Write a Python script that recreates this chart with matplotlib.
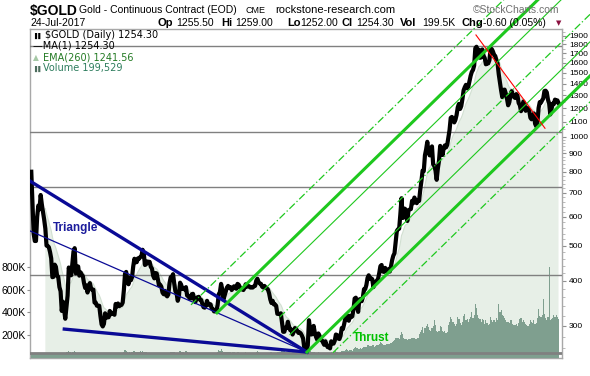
import matplotlib
matplotlib.use("Agg")
import matplotlib.pyplot as plt
import numpy as np
import pandas as pd
from matplotlib.ticker import NullFormatter

plt.rcParams['font.family'] = ['Liberation Sans', 'DejaVu Sans']

# monthly gold price (continuous contract), Jan 1980 .. Jul 2017
price_1980s = [
    800, 660, 540, 515, 515, 600, 645, 630, 690, 650, 620, 590,
    557, 500, 499, 495, 480, 461, 409, 410, 443, 437, 413, 410,
    384, 374, 330, 350, 333, 314, 339, 364, 435, 422, 414, 444,
    481, 492, 419, 432, 438, 413, 422, 416, 412, 394, 382, 388,
    371, 387, 394, 381, 377, 378, 348, 348, 341, 341, 341, 320,
    303, 299, 304, 325, 316, 317, 317, 330, 323, 326, 325, 322,
    345, 339, 346, 340, 342, 343, 348, 376, 418, 423, 398, 391,
    408, 401, 409, 438, 460, 450, 450, 461, 460, 465, 467, 487,
    477, 442, 444, 452, 451, 451, 437, 432, 413, 406, 420, 419,
    404, 388, 390, 385, 371, 367, 375, 365, 362, 367, 394, 409]
price_1990s = [
    410, 417, 393, 374, 369, 352, 362, 395, 389, 380, 381, 378,
    384, 364, 363, 358, 357, 367, 368, 356, 349, 358, 360, 361,
    354, 354, 345, 338, 337, 341, 352, 343, 345, 344, 335, 334,
    329, 329, 330, 342, 367, 372, 392, 379, 355, 364, 373, 383,
    387, 382, 384, 377, 381, 386, 385, 380, 392, 390, 384, 379,
    379, 377, 382, 391, 385, 387, 386, 383, 383, 383, 386, 387,
    400, 405, 396, 393, 392, 385, 383, 387, 383, 381, 378, 369,
    355, 347, 352, 344, 344, 341, 324, 324, 323, 325, 306, 289,
    289, 297, 296, 308, 299, 292, 293, 284, 289, 296, 294, 291,
    287, 288, 286, 282, 277, 261, 256, 257, 265, 311, 293, 284]
price_2000s = [
    285, 300, 287, 280, 275, 286, 282, 275, 274, 270, 266, 272,
    266, 262, 263, 260, 272, 270, 268, 273, 284, 283, 277, 276,
    282, 296, 294, 303, 314, 322, 314, 310, 320, 317, 319, 333,
    357, 359, 340, 328, 355, 356, 351, 360, 379, 379, 389, 407,
    414, 405, 406, 404, 384, 392, 398, 400, 405, 420, 439, 442,
    424, 423, 434, 429, 422, 430, 424, 438, 456, 469, 476, 510,
    549, 555, 557, 610, 676, 596, 633, 632, 599, 585, 627, 629,
    631, 665, 655, 679, 667, 655, 665, 665, 713, 754, 806, 803,
    889, 922, 968, 909, 888, 890, 940, 839, 830, 806, 760, 816,
    858, 943, 924, 890, 928, 946, 934, 949, 996, 1043, 1127, 1134]
price_2010s = [
    1117, 1095, 1113, 1148, 1205, 1232, 1193, 1215, 1271, 1343, 1370, 1391,
    1360, 1374, 1424, 1473, 1510, 1529, 1572, 1756, 1772, 1665, 1739, 1652,
    1656, 1742, 1674, 1650, 1585, 1596, 1594, 1626, 1744, 1747, 1721, 1684,
    1671, 1627, 1593, 1487, 1414, 1343, 1286, 1347, 1349, 1316, 1275, 1221,
    1244, 1300, 1336, 1299, 1287, 1279, 1311, 1296, 1239, 1222, 1176, 1200,
    1251, 1227, 1179, 1198, 1199, 1181, 1128, 1117, 1125, 1159, 1086, 1068,
    1097, 1200, 1246, 1242, 1260, 1276, 1337, 1340, 1326, 1266, 1236, 1152,
    1192, 1234, 1231, 1266, 1246, 1260, 1240]

# monthly volume, thousands of contracts
vol_1980s = [
    35, 38, 40, 36, 34, 33, 35, 36, 38, 36, 34, 33,
    40, 42, 45, 44, 43, 40, 42, 44, 46, 45, 44, 43,
    45, 46, 48, 47, 45, 44, 50, 55, 60, 52, 48, 50,
    55, 58, 50, 48, 47, 45, 46, 44, 45, 43, 42, 44,
    42, 44, 45, 43, 42, 41, 44, 43, 42, 41, 40, 42,
    40, 42, 44, 46, 43, 42, 41, 43, 42, 40, 41, 40,
    42, 43, 44, 42, 41, 40, 45, 55, 70, 58, 50, 48,
    50, 48, 52, 65, 60, 55, 54, 56, 55, 60, 52, 58,
    55, 52, 50, 48, 47, 46, 48, 45, 47, 46, 45, 44,
    44, 46, 45, 44, 43, 42, 44, 43, 42, 45, 48, 50]
vol_1990s = [
    55, 52, 50, 48, 46, 45, 47, 65, 55, 52, 50, 48,
    60, 50, 48, 45, 44, 45, 46, 48, 45, 44, 45, 44,
    43, 44, 45, 44, 43, 44, 46, 45, 44, 43, 42, 42,
    43, 44, 45, 55, 70, 65, 75, 60, 55, 52, 50, 52,
    50, 49, 50, 48, 49, 50, 48, 47, 50, 49, 48, 47,
    46, 47, 48, 50, 47, 46, 45, 46, 45, 44, 45, 46,
    55, 60, 50, 48, 47, 46, 45, 46, 45, 44, 45, 47,
    50, 52, 48, 46, 47, 48, 55, 52, 50, 55, 58, 60,
    58, 55, 52, 54, 50, 48, 47, 50, 55, 52, 50, 48,
    47, 46, 45, 48, 52, 55, 58, 54, 65, 85, 60, 52]
vol_2000s = [
    50, 55, 52, 48, 47, 50, 46, 45, 44, 43, 44, 46,
    45, 46, 44, 45, 50, 48, 46, 47, 60, 52, 48, 46,
    55, 60, 58, 62, 70, 75, 68, 65, 70, 66, 64, 75,
    90, 95, 85, 80, 82, 84, 80, 85, 95, 100, 95, 110,
    110, 105, 108, 115, 112, 100, 105, 110, 115, 125, 140, 130,
    120, 115, 118, 120, 122, 125, 120, 128, 140, 150, 160, 175,
    180, 175, 170, 200, 230, 210, 180, 170, 165, 160, 170, 165,
    170, 175, 180, 175, 170, 165, 175, 210, 230, 250, 270, 220,
    260, 280, 300, 270, 250, 240, 260, 280, 330, 290, 240, 230,
    240, 280, 270, 240, 230, 240, 220, 230, 290, 320, 360, 340]
vol_2010s = [
    320, 300, 280, 300, 360, 340, 310, 290, 320, 370, 390, 330,
    340, 320, 340, 360, 400, 350, 380, 470, 440, 380, 350, 340,
    320, 340, 330, 300, 330, 310, 290, 300, 360, 330, 320, 330,
    320, 350, 330, 470, 400, 420, 380, 370, 350, 330, 320, 320,
    310, 330, 330, 300, 290, 290, 300, 280, 310, 340, 350, 320,
    330, 320, 300, 290, 280, 300, 330, 320, 310, 330, 300, 310,
    350, 430, 370, 360, 380, 520, 390, 350, 330, 360, 800, 330,
    340, 350, 380, 360, 380, 360, 340]

year_labels = ["%02d" % (y % 100) for y in range(1981, 2018)]
price_ticks = [300, 400, 500, 600, 700, 800, 900, 1000, 1100, 1200, 1300,
               1400, 1500, 1600, 1700, 1800, 1900]
vol_ticks = [200e3, 400e3, 600e3, 800e3]
vol_tick_labels = ["200K", "400K", "600K", "800K"]

# analyst annotations
hlines = [1780, 1030, 728, 414]
floor_line = 253
tri_upper = ([1979.95, 1999.65], [754, 254])
tri_inner = ([1979.95, 1999.65], [549, 254])
tri_lower = ([1982.39, 1999.65], [294, 254])
chan_year = [1991.4, 1993.25, 1996.45, 1997.7, 1998.44, 1999.65, 2001.5]
chan_price = [343, 326, 373, 317, 284, 254, 253]
chan_kind = ["dashdot", "thick", "thin", "dashdot", "thin", "thick", "dashdot"]
chan_growth = 0.0379          # log10 per year
red_line = ([2011.67, 2016.58], [1910, 1055])

W, H = 590, 376
fig = plt.figure(figsize=(W / 100, H / 100), dpi=100)
ax = fig.add_axes([30 / W, 1 - 358 / H, 532 / W, 329 / H])
vax = ax.twinx()
ax2 = ax.twinx()

price = np.array(price_1980s + price_1990s + price_2000s + price_2010s, float)
volume = np.array(vol_1980s + vol_1990s + vol_2000s + vol_2010s, float) * 1e3
t = 1980 + (np.arange(len(price)) + 0.5) / 12
ema = pd.Series(price).ewm(alpha=0.149, adjust=False).mean().values

ylo, yhi = 244.6, 1984
for a in (ax, ax2):
    a.set_yscale('log')
    a.set_ylim(ylo, yhi)
    a.set_xlim(1979.95, 2017.79)

# EMA area
ax.fill_between(t[12:], ema[12:], 100, color='#e7efe7', lw=0)
ax.plot(t[12:], ema[12:], color='#d2e0d2', lw=0.8)

# volume
vax.bar(t, volume, width=1 / 12, color='#7f9f8f', lw=0)
vax.set_ylim(0, 2.89e6)
vax.yaxis.tick_left()
vax.set_yticks(vol_ticks)
vax.set_yticklabels(vol_tick_labels)
vax.tick_params(axis='y', length=2, pad=1, labelsize=7.5, color='#909090')
for s in vax.spines.values():
    s.set_visible(False)

# price panel
for h in hlines:
    ax2.axhline(h, color='#808080', lw=1.0, zorder=1)
ax2.axhline(floor_line, color='#808080', lw=2.0, zorder=1)
ax2.plot(t, price, color='black', lw=3.0, solid_joinstyle='round', zorder=3)

ax2.plot(*tri_upper, color='#0a0a96', lw=2.4, zorder=4)
ax2.plot(*tri_inner, color='#0a0a96', lw=0.9, zorder=4)
ax2.plot(*tri_lower, color='#0a0a96', lw=2.4, zorder=4)
ax2.text(1981.6, 560, "Triangle", color='#1c1c9c', fontsize=8.5,
         fontweight='bold', va='center', ha='left', zorder=5)

for y0, p0, kind in zip(chan_year, chan_price, chan_kind):
    tt = np.array([y0, 2020.5])
    pp = p0 * 10 ** (chan_growth * (tt - y0))
    if kind == "thick":
        kw = dict(lw=2.2, ls='-')
    elif kind == "thin":
        kw = dict(lw=0.8, ls='-')
    else:
        kw = dict(lw=0.9, ls=(0, (6, 2, 1, 2)))
    ax2.plot(tt, pp, color='#1ec81e', clip_on=False, zorder=6, **kw)
ax2.text(2002.9, 278, "Thrust", color='#00c000', fontsize=8.5,
         fontweight='bold', va='center', ha='left', zorder=5)

ax2.plot(*red_line, color='#ff0000', lw=0.8, zorder=6)

# axes styling
ax.yaxis.tick_right()
ax.set_yticks(price_ticks)
ax.set_yticklabels([str(v) for v in price_ticks])
minor = list(range(260, 1000, 20)) + list(range(1050, 1980, 50))
ax.set_yticks(minor, minor=True)
ax.yaxis.set_minor_formatter(NullFormatter())
ax.tick_params(axis='y', which='major', length=3, pad=2, labelsize=6,
               color='#909090')
ax.tick_params(axis='y', which='minor', length=2, color='#b0b0b0')
ax.set_xticks(np.arange(1981, 2018) + 0.1)
ax.set_xticklabels(year_labels)
ax.tick_params(axis='x', length=2, pad=2, labelsize=8, color='#909090')
for s in ax.spines.values():
    s.set_color('#a8a8a8')
    s.set_linewidth(1.0)
ax2.set_yticks([])
ax2.set_yticks([], minor=True)
ax2.set_xticks([])
for s in ax2.spines.values():
    s.set_visible(False)


def fx(px):
    return px / W


def fy(py):
    return 1 - py / H


# header
fig.text(fx(30), fy(15), "$GOLD", fontsize=10, fontweight='bold', va='baseline')
fig.text(fx(79), fy(13), "Gold - Continuous Contract (EOD)", fontsize=7.5, va='baseline')
fig.text(fx(246), fy(13), "CME", fontsize=6.5, va='baseline')
fig.text(fx(275), fy(13), "rockstone-research.com", fontsize=8, va='baseline')
fig.text(fx(473), fy(13), "\u00a9StockCharts.com", fontsize=7.5, va='baseline',
         color='#707070')
fig.text(fx(30), fy(26), "24-Jul-2017", fontsize=7.5, va='baseline')
row2 = [(158, "Op", True), (176, "1255.50", False), (221, "Hi", True),
        (235, "1259.00", False), (287, "Lo", True), (300, "1252.00", False),
        (342, "Cl", True), (356, "1254.30", False), (400, "Vol", True),
        (422, "199.5K", False), (461, "Chg", True), (483, "-0.60 (0.05%)", False)]
for px, s, bold in row2:
    fig.text(fx(px), fy(26), s, fontsize=8 if bold else 7.5, va='baseline',
             fontweight='bold' if bold else 'normal')
fig.text(fx(556), fy(25.5), "\u25bc", fontsize=5, va='baseline', color='#8b1040',
         family='DejaVu Sans')

# legend inside the chart
fig.text(fx(34), fy(38), "\u258c\u258c", fontsize=4, va='baseline', family='DejaVu Sans')
fig.text(fx(45), fy(38), "$GOLD (Daily) 1254.30", fontsize=7, va='baseline',
         family='DejaVu Sans')
fig.text(fx(33), fy(48), "\u2014MA(1) 1254.30", fontsize=7, va='baseline',
         family='DejaVu Sans')
fig.text(fx(33), fy(60), "\u25b2", fontsize=5.5, va='baseline', color='#a5c8a5',
         family='DejaVu Sans')
fig.text(fx(43), fy(60.5), "EMA(260) 1241.56", fontsize=7, va='baseline',
         color='#237a23', family='DejaVu Sans')
fig.text(fx(34), fy(70.5), "\u258c\u258c", fontsize=4, va='baseline', color='#4d6d5d',
         family='DejaVu Sans')
fig.text(fx(43), fy(70.5), "Volume 199,529", fontsize=7, va='baseline',
         color='#2e7d5e', family='DejaVu Sans')

fig.savefig("out.png", dpi=100, facecolor='white')
